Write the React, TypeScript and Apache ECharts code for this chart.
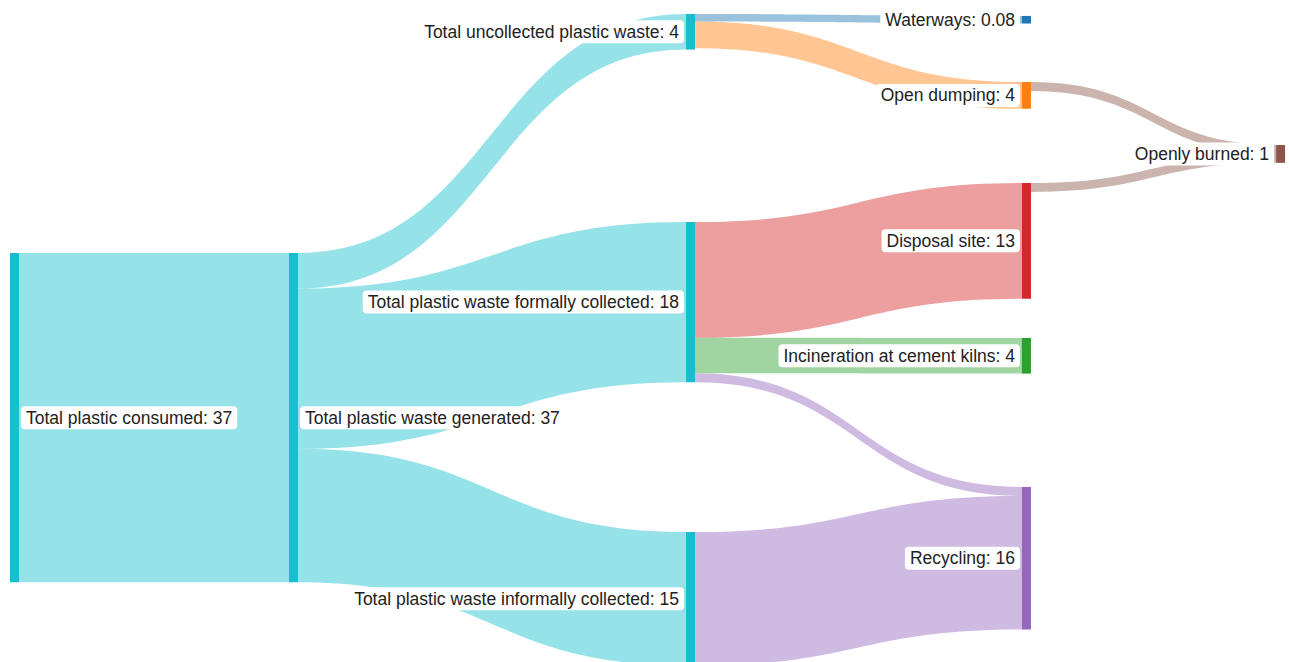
import React, { useEffect, useRef } from 'react';
import * as echarts from 'echarts';

const nodeNames = [
  'Total plastic consumed',
  'Total plastic waste generated',
  'Total uncollected plastic waste',
  'Total plastic waste formally collected',
  'Total plastic waste informally collected',
  'Waterways',
  'Open dumping',
  'Disposal site',
  'Incineration at cement kilns',
  'Recycling',
  'Openly burned',
];
const nodeReportedValues = [37, 37, 4, 18, 15, 0.08, 4, 13, 4, 16, 1];
const nodeColors = [
  '#17becf', '#17becf', '#17becf', '#17becf', '#17becf',
  '#1f77b4', '#ff7f0e', '#d62728', '#2ca02c', '#9467bd', '#8c564b',
];
const linkSources = [0, 1, 1, 1, 2, 2, 3, 3, 3, 4, 6, 7];
const linkTargets = [1, 2, 3, 4, 5, 6, 7, 8, 9, 9, 10, 10];
const linkValues = [37, 4, 18, 15, 0.85, 3, 13, 4, 1, 15, 1, 1];

// Manual arrangement of the nodes (fractions of the drawing area), like a fixed sankey arrangement.
const nodeArrangeX = [0, 0.2188, 0.5302, 0.5302, 0.5302, 0.7937, 0.7937, 0.7937, 0.7937, 0.7937, 0.993];
const nodeArrangeY = [0.3688, 0.3688, 0, 0.321, 0.7994, 0.003, 0.105, 0.2608, 0.5, 0.73, 0.2022];

const FONT = '"Liberation Sans", Arial, Helvetica, sans-serif';

export default function App() {
  const ref = useRef<HTMLDivElement>(null);
  useEffect(() => {
    document.body.style.margin = '0';
    const chart = echarts.init(ref.current!, undefined, { renderer: 'svg' });
    const labelMap: Record<string, number> = {};
    nodeNames.forEach((n, i) => (labelMap[n] = nodeReportedValues[i]));
    chart.setOption({
      animation: false,
      series: [
        {
          type: 'sankey',
          left: 10,
          right: 4,
          top: 14,
          bottom: 0,
          nodeWidth: 9,
          nodeGap: 80,
          nodeAlign: 'left',
          layoutIterations: 0,
          draggable: false,
          emphasis: { disabled: true },
          data: nodeNames.map((name, i) => ({
            name,
            localX: nodeArrangeX[i],
            localY: nodeArrangeY[i],
            itemStyle: { color: nodeColors[i], borderWidth: 0 },
            label: { position: i < 2 ? 'right' : 'left' },
          })),
          links: linkSources.map((s, i) => ({
            source: nodeNames[s],
            target: nodeNames[linkTargets[i]],
            value: linkValues[i],
          })),
          lineStyle: { color: 'target', opacity: 0.45, curveness: 0.5 },
          label: {
            fontFamily: FONT,
            fontSize: 17.5,
            color: '#222',
            backgroundColor: '#ffffff',
            borderRadius: 4,
            padding: [3, 5, 2, 5],
            distance: 2,
            formatter: (p: any) => `${p.name}: ${labelMap[p.name]}`,
          },
        },
      ],
    });
    return () => chart.dispose();
  }, []);
  return <div ref={ref} style={{ width: 1289, height: 662 }} />;
}
